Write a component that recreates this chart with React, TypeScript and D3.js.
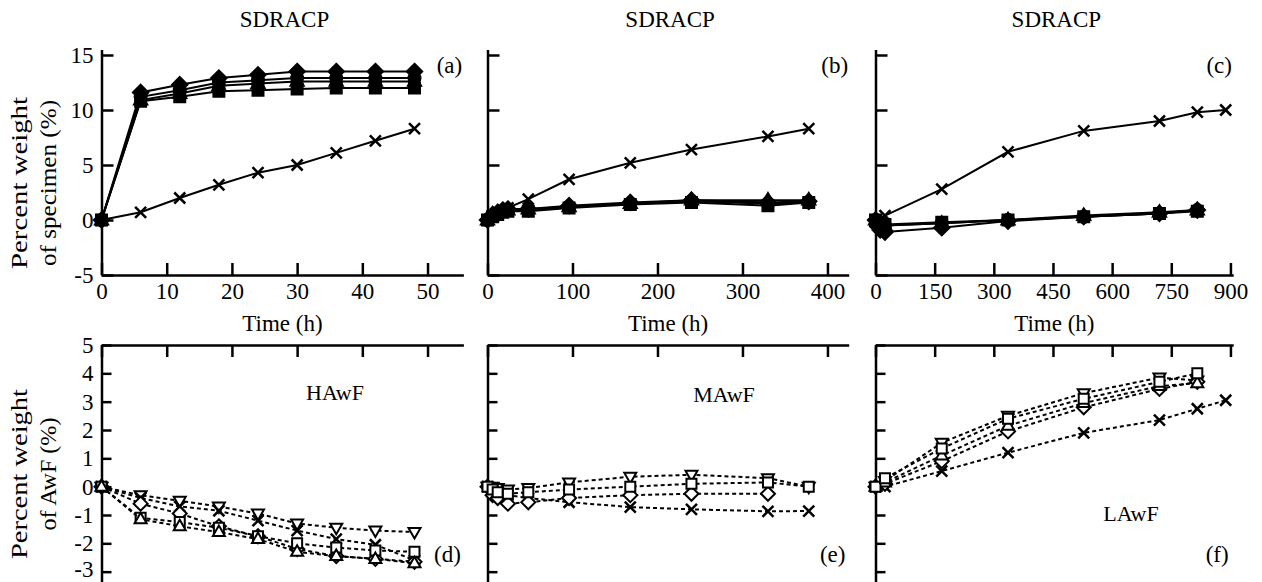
import React, { useEffect, useRef } from 'react';
import * as d3 from 'd3';

const W = 1262;
const H = 582;
const FONT = '"Liberation Serif", "Times New Roman", serif';

// top row: SDRACP, percent weight of specimen
const timeA = [0, 6, 12, 18, 24, 30, 36, 42, 48];
const aDiamond = [0, 11.6, 12.3, 12.9, 13.2, 13.5, 13.5, 13.5, 13.5];
const aCircle = [0, 11.2, 11.8, 12.5, 12.7, 12.9, 12.9, 12.9, 12.9];
const aTriangle = [0, 10.9, 11.5, 12.2, 12.4, 12.6, 12.6, 12.6, 12.6];
const aSquare = [0, 10.8, 11.2, 11.7, 11.8, 11.9, 12.0, 12.0, 12.0];
const aCross = [0, 0.7, 2.0, 3.2, 4.3, 5.0, 6.1, 7.2, 8.3];

const timeB = [0, 6, 12, 18, 24, 48, 96, 168, 240, 330, 378];
const bDiamond = [0, 0.5, 0.7, 0.9, 1.0, 1.0, 1.3, 1.6, 1.8, 1.6, 1.7];
const bCircle = [0, 0.4, 0.6, 0.8, 0.9, 0.9, 1.2, 1.5, 1.7, 1.5, 1.6];
const bTriangle = [0, 0.5, 0.7, 0.8, 0.9, 1.0, 1.2, 1.5, 1.8, 1.8, 1.8];
const bSquare = [0, 0.3, 0.5, 0.7, 0.8, 0.8, 1.1, 1.4, 1.6, 1.3, 1.6];
const bCross = [0, 0.4, 0.7, 0.9, 1.1, 1.9, 3.7, 5.2, 6.4, 7.6, 8.3];

const timeC = [0, 6, 12, 24, 168, 336, 528, 720, 816];
const timeCx = [0, 24, 168, 336, 528, 720, 816, 888];
const cDiamond = [0, -0.6, -0.9, -1.1, -0.7, -0.1, 0.3, 0.6, 0.9];
const cCircle = [0, -0.3, -0.5, -0.5, -0.3, 0, 0.3, 0.6, 0.9];
const cTriangle = [0, -0.2, -0.4, -0.5, -0.3, 0, 0.4, 0.7, 0.9];
const cSquare = [0, -0.2, -0.3, -0.4, -0.2, 0, 0.3, 0.6, 0.8];
const cCross = [0, 0.4, 2.8, 6.2, 8.1, 9.0, 9.8, 10.0];

// bottom row: percent weight of AwF
const timeD = [0, 6, 12, 18, 24, 30, 36, 42, 48];
const dDown = [0, -0.3, -0.5, -0.7, -0.95, -1.3, -1.45, -1.55, -1.6];
const dCross = [0, -0.4, -0.7, -0.85, -1.2, -1.55, -1.85, -2.05, -2.6];
const dDiamond = [0, -0.6, -0.95, -1.4, -1.75, -2.2, -2.45, -2.55, -2.65];
const dSquare = [0, -1.1, -1.25, -1.45, -1.75, -2.0, -2.15, -2.25, -2.3];
const dUp = [0, -1.15, -1.4, -1.6, -1.85, -2.3, -2.45, -2.55, -2.7];

const timeE = [0, 6, 12, 24, 48, 96, 168, 240, 330, 378];
const eDown = [0, 0.0, -0.05, -0.1, -0.05, 0.15, 0.35, 0.42, 0.3, 0.0];
const eSquare = [0, -0.1, -0.2, -0.25, -0.2, -0.1, 0.0, 0.1, 0.15, 0.0];
const eDiamond = [0, -0.3, -0.4, -0.6, -0.55, -0.4, -0.3, -0.25, -0.25];
const eCross = [0, -0.1, -0.2, -0.3, -0.4, -0.55, -0.72, -0.8, -0.87, -0.86];

const timeF = [0, 24, 168, 336, 528, 720, 816, 888];
const fSquare = [0, 0.3, 1.35, 2.4, 3.1, 3.7, 4.0];
const fDown = [0, 0.2, 1.55, 2.5, 3.3, 3.85, 3.75];
const fDiamond = [0, 0.1, 0.9, 1.95, 2.8, 3.45, 3.7];
const fUp = [0, 0.15, 1.1, 2.15, 2.95, 3.55, 3.65];
const fCross = [0, 0.0, 0.55, 1.2, 1.9, 2.35, 2.75, 3.05];

const xTicksA = [0, 10, 20, 30, 40, 50];
const xTicksB = [0, 100, 200, 300, 400];
const xTicksC = [0, 150, 300, 450, 600, 750, 900];
const yTicksTop = [-5, 0, 5, 10, 15];
const yTicksBottom = [-3, -2, -1, 0, 1, 2, 3, 4, 5];

const titles = ['SDRACP', 'SDRACP', 'SDRACP'];
const tags = ['(a)', '(b)', '(c)', '(d)', '(e)', '(f)'];
const fluids = ['HAwF', 'MAwF', 'LAwF'];

type Shape = 'diamond' | 'circle' | 'triangle' | 'square' | 'cross' | 'down';
type Series = { shape: Shape; t: number[]; v: number[] };

function shapePath(shape: Shape, filled: boolean) {
  const k = filled ? 1.1 : 1;
  switch (shape) {
    case 'diamond': return `M0,${-7 * k}L${7 * k},0L0,${7 * k}L${-7 * k},0Z`;
    case 'square': return `M${-5 * k},${-5 * k}h${10 * k}v${10 * k}h${-10 * k}Z`;
    case 'circle': return 'M-6,0a6,6 0 1,0 12,0a6,6 0 1,0 -12,0Z';
    case 'triangle': return `M0,${-6.5 * k}L${6 * k},${4 * k}L${-6 * k},${4 * k}Z`;
    case 'down': return 'M0,6.5L6,-4L-6,-4Z';
    case 'cross': return 'M-5.5,-5.5L5.5,5.5M5.5,-5.5L-5.5,5.5';
  }
}

const minorsBetween = (ticks: number[]) =>
  ticks.slice(1).map((d, i) => (d + ticks[i]) / 2);

export default function App() {
  const ref = useRef<SVGSVGElement>(null);

  useEffect(() => {
    const svg = d3.select(ref.current);
    svg.selectAll('*').remove();

    const yTop = d3.scaleLinear().domain([-5, 15.5]).range([275, 49.5]);
    const yBot = d3.scaleLinear().domain([-3.365, 5]).range([582, 345]);
    const xA = d3.scaleLinear().domain([0, 55.5]).range([101.5, 463.4]);
    const xB = d3.scaleLinear().domain([0, 425]).range([487.5, 848.7]);
    const xC = d3.scaleLinear().domain([0, 907]).range([875.5, 1233.2]);

    const top = [
      { x: xA, ticks: xTicksA, labelY: true, series: [
        { shape: 'cross', t: timeA, v: aCross },
        { shape: 'square', t: timeA, v: aSquare },
        { shape: 'triangle', t: timeA, v: aTriangle },
        { shape: 'circle', t: timeA, v: aCircle },
        { shape: 'diamond', t: timeA, v: aDiamond },
      ] as Series[] },
      { x: xB, ticks: xTicksB, labelY: false, series: [
        { shape: 'cross', t: timeB, v: bCross },
        { shape: 'square', t: timeB, v: bSquare },
        { shape: 'triangle', t: timeB, v: bTriangle },
        { shape: 'circle', t: timeB, v: bCircle },
        { shape: 'diamond', t: timeB, v: bDiamond },
      ] as Series[] },
      { x: xC, ticks: xTicksC, labelY: false, series: [
        { shape: 'cross', t: timeCx, v: cCross },
        { shape: 'square', t: timeC, v: cSquare },
        { shape: 'triangle', t: timeC, v: cTriangle },
        { shape: 'circle', t: timeC, v: cCircle },
        { shape: 'diamond', t: timeC, v: cDiamond },
      ] as Series[] },
    ];
    const bottom = [
      { x: xA, ticks: xTicksA, labelY: true, series: [
        { shape: 'down', t: timeD, v: dDown },
        { shape: 'cross', t: timeD, v: dCross },
        { shape: 'diamond', t: timeD, v: dDiamond },
        { shape: 'square', t: timeD, v: dSquare },
        { shape: 'triangle', t: timeD, v: dUp },
      ] as Series[] },
      { x: xB, ticks: xTicksB, labelY: false, series: [
        { shape: 'down', t: timeE, v: eDown },
        { shape: 'cross', t: timeE, v: eCross },
        { shape: 'diamond', t: timeE, v: eDiamond },
        { shape: 'square', t: timeE, v: eSquare },
      ] as Series[] },
      { x: xC, ticks: xTicksC, labelY: false, series: [
        { shape: 'down', t: timeF, v: fDown },
        { shape: 'cross', t: timeF, v: fCross },
        { shape: 'diamond', t: timeF, v: fDiamond },
        { shape: 'triangle', t: timeF, v: fUp },
        { shape: 'square', t: timeF, v: fSquare },
      ] as Series[] },
    ];

    const styleAxis = (g: any) => {
      g.selectAll('path.domain').attr('stroke', 'black').attr('stroke-width', 2.5);
      g.selectAll('line').attr('stroke', 'black').attr('stroke-width', 2.5);
      g.selectAll('text')
        .attr('font-family', FONT)
        .attr('font-size', 23)
        .attr('fill', 'black');
    };
    const fmt = (d: any) => String(d);

    const drawSeries = (p: any, y: any, filled: boolean) => {
      p.series.forEach((s: Series) => {
        const pts = s.v.map((v, i) => [p.x(s.t[i]), y(v)] as [number, number]);
        svg.append('path')
          .attr('d', d3.line()(pts))
          .attr('fill', 'none')
          .attr('stroke', 'black')
          .attr('stroke-width', 2)
          .attr('stroke-dasharray', filled ? null : '4,3');
        svg.append('g').selectAll('path')
          .data(pts)
          .enter()
          .append('path')
          .attr('transform', d => `translate(${d[0]},${d[1]})`)
          .attr('d', shapePath(s.shape, filled))
          .attr('fill', s.shape === 'cross' ? 'none' : (filled ? 'black' : 'white'))
          .attr('stroke', 'black')
          .attr('stroke-width', s.shape === 'cross' ? 2.5 : 2);
      });
    };

    const endMinor = (p: any) => minorsBetween(p.ticks)
      .concat([p.ticks[p.ticks.length - 1] + (p.ticks[1] - p.ticks[0]) / 2])
      .filter((d: number) => d <= p.x.domain()[1]);

    top.forEach((p, i) => {
      const x0 = p.x(0);
      const gx = svg.append('g').attr('transform', `translate(0,${yTop(-5)})`);
      gx.call(d3.axisBottom(p.x).tickValues(endMinor(p))
        .tickSize(-7).tickSizeOuter(0).tickFormat(() => ''));
      gx.call(d3.axisBottom(p.x).tickValues(p.ticks).tickSize(-12).tickSizeOuter(0).tickPadding(8).tickFormat(fmt));
      styleAxis(gx);

      const gy = svg.append('g').attr('transform', `translate(${x0},0)`);
      gy.call(d3.axisLeft(yTop).tickValues(minorsBetween(yTicksTop)).tickSize(-7).tickSizeOuter(0).tickFormat(() => ''));
      gy.call(d3.axisLeft(yTop).tickValues(yTicksTop).tickSize(-12).tickSizeOuter(0).tickPadding(8)
        .tickFormat(p.labelY ? fmt : () => ''));
      styleAxis(gy);

      drawSeries(p, yTop, true);

      const [r0, r1] = p.x.range();
      svg.append('text').attr('x', (r0 + r1) / 2 + 2).attr('y', 27)
        .attr('text-anchor', 'middle').attr('font-family', FONT).attr('font-size', 23)
        .text(titles[i]);
      svg.append('text').attr('x', (r0 + r1) / 2).attr('y', 331)
        .attr('text-anchor', 'middle').attr('font-family', FONT).attr('font-size', 23)
        .text('Time (h)');
      svg.append('text').attr('x', r1 - 14).attr('y', 73)
        .attr('text-anchor', 'middle').attr('font-family', FONT).attr('font-size', 23)
        .text(tags[i]);
    });

    bottom.forEach((p, i) => {
      const x0 = p.x(0);
      const gx = svg.append('g').attr('transform', `translate(0,${yBot(5)})`);
      gx.call(d3.axisTop(p.x).tickValues(endMinor(p))
        .tickSize(-7).tickSizeOuter(0).tickFormat(() => ''));
      gx.call(d3.axisTop(p.x).tickValues(p.ticks).tickSize(-12).tickSizeOuter(0).tickFormat(() => ''));
      styleAxis(gx);

      const gy = svg.append('g').attr('transform', `translate(${x0},0)`);
      gy.call(d3.axisLeft(yBot).tickValues(minorsBetween(yTicksBottom)).tickSize(-6).tickSizeOuter(0).tickFormat(() => ''));
      gy.call(d3.axisLeft(yBot).tickValues(yTicksBottom).tickSize(-10).tickSizeOuter(0).tickPadding(8)
        .tickFormat(p.labelY ? fmt : () => ''));
      styleAxis(gy);
      // keep the lowest label inside the picture
      gy.selectAll('.tick text').filter((d: any) => d === -3).attr('dy', '0.2em');

      drawSeries(p, yBot, false);

      const r1 = p.x.range()[1];
      svg.append('text').attr('x', r1 - 16).attr('y', 562)
        .attr('text-anchor', 'middle').attr('font-family', FONT).attr('font-size', 23)
        .text(tags[i + 3]);
      const fx = [335, 724, 1131][i];
      const fy = [400, 402, 521][i];
      svg.append('text').attr('x', fx).attr('y', fy)
        .attr('text-anchor', 'middle').attr('font-family', FONT).attr('font-size', 22)
        .text(fluids[i]);
    });

    const yTitle = (lines: string[], lens: number[], cy: number) => {
      lines.forEach((t, k) => {
        svg.append('text')
          .attr('transform', `translate(${[27, 56][k]},${cy}) rotate(-90)`)
          .attr('text-anchor', 'middle')
          .attr('font-family', FONT)
          .attr('font-size', 23)
          .attr('textLength', lens[k])
          .attr('lengthAdjust', 'spacingAndGlyphs')
          .text(t);
      });
    };
    yTitle(['Percent weight', 'of specimen (%)'], [172, 166], 183);
    yTitle(['Percent weight', 'of AwF (%)'], [170, 113], 474);
  }, []);

  return (
    <svg ref={ref} width={W} height={H} viewBox={`0 0 ${W} ${H}`}
      style={{ position: 'absolute', left: 0, top: 0, background: 'white' }} />
  );
}
